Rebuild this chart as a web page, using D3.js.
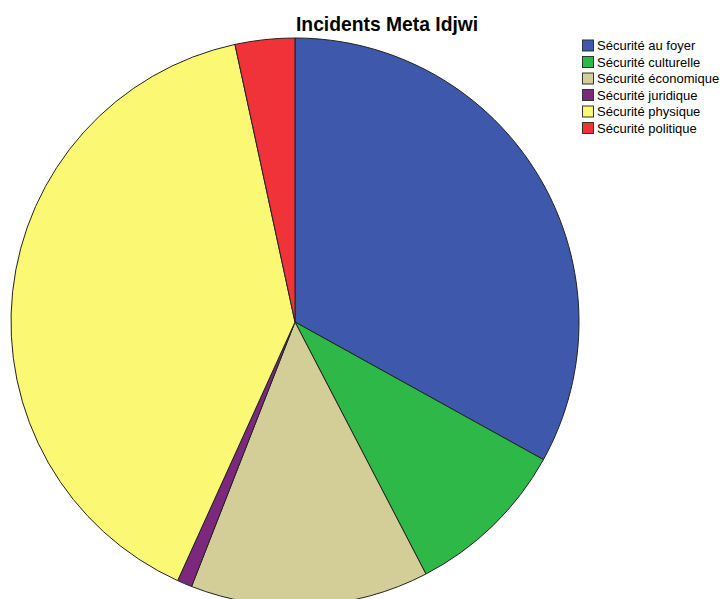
<!DOCTYPE html>
<html><head><meta charset="utf-8">
<script src="https://cdn.jsdelivr.net/npm/d3@7"></script>
<style>html,body{margin:0;padding:0;background:#fff;}svg{display:block;}</style>
</head><body>
<svg id="chart" width="720" height="599"></svg>
<script>
const categories = ["Sécurité au foyer","Sécurité culturelle","Sécurité économique","Sécurité juridique","Sécurité physique","Sécurité politique"];
const counts = [39, 11, 16, 1, 47, 4];
const colors = ["#3e58ac","#2eb848","#d3ce97","#7c287d","#fbf873","#ef3338"];
const title = "Incidents Meta Idjwi";

const svg = d3.select("#chart");
const cx = 295, cy = 322, r = 284;
const data = categories.map((c,i)=>({cat:c, value:counts[i]}));
const pie = d3.pie().value(d=>d.value).sort(null);
const arc = d3.arc().innerRadius(0).outerRadius(r);
const color = d3.scaleOrdinal().domain(categories).range(colors);

svg.append("g").attr("transform",`translate(${cx},${cy})`)
  .selectAll("path").data(pie(data)).join("path")
  .attr("d",arc).attr("fill",d=>color(d.data.cat))
  .attr("stroke","#222").attr("stroke-width",1);

svg.append("text").attr("x",296).attr("y",31)
  .attr("font-family","Liberation Sans, Arial, sans-serif")
  .attr("font-weight","bold").attr("font-size",19.3).attr("fill","#000")
  .text(title);

const leg = svg.append("g").attr("transform","translate(582,39.5)");
const rows = leg.selectAll("g").data(categories).join("g")
  .attr("transform",(d,i)=>`translate(0,${i*16.5})`);
rows.append("rect").attr("x",0.5).attr("y",0.5).attr("width",11).attr("height",11)
  .attr("fill",d=>color(d)).attr("stroke","#333").attr("stroke-width",1);
rows.append("text").attr("x",15).attr("y",10.5)
  .attr("font-family","Liberation Sans, Arial, sans-serif")
  .attr("font-size",13).attr("fill","#000").text(d=>d);
</script>
</body></html>
